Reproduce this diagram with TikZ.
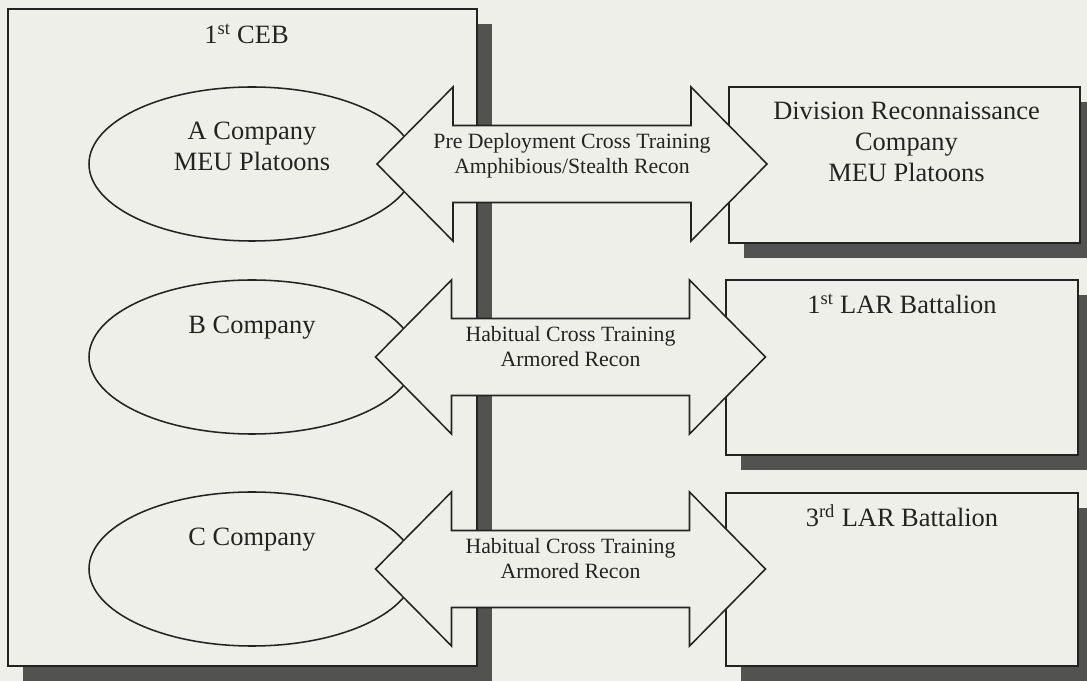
\documentclass[tikz,border=0pt]{standalone}
\usepackage{fontspec}
\setmainfont{Liberation Serif}
\usepackage{tikz}
\usetikzlibrary{calc, positioning, shapes.geometric, shadows}

\definecolor{paper}{RGB}{239,239,233}
\definecolor{ink}{RGB}{35,35,35}
\definecolor{shadowgray}{RGB}{82,82,80}

\tikzset{
  orgbox/.style = {rectangle, draw=ink, fill=paper, line width=1.1pt, inner sep=0pt,
    drop shadow={shadow xshift=15*\px, shadow yshift=-15*\px, fill=shadowgray, opacity=1}},
  company/.style = {ellipse, draw=ink, fill=paper, line width=1.1pt, inner sep=0pt,
    minimum width=326*\px, minimum height=154*\px},
  xferline/.style = {draw=ink, fill=paper, line width=1.1pt},
  pics/xferarrow/.style = {code={
    \path[xferline] (-195,0) -- ++(76,-77) -- ++(0,38.5) -- ++(238,0) -- ++(0,-38.5)
      -- ++(76,77) -- ++(-76,77) -- ++(0,-38.5) -- ++(-238,0) -- ++(0,38.5) -- cycle;
  }},
  bigtext/.style = {inner sep=0pt, align=center, text=ink,
    font=\fontsize{18.8}{21.8}\selectfont},
  smalltext/.style = {inner sep=0pt, align=center, text=ink,
    font=\fontsize{15.5}{17.8}\selectfont},
}

\begin{document}
\begin{tikzpicture}[x=0.025cm, y=-0.025cm]
  \def\px{0.025cm}
  \useasboundingbox (0,0) rectangle (1087,681);
  \fill[paper] (0,0) rectangle (1087,681);
  \clip (0,0) rectangle (1087,681);

  % 1st CEB with its companies
  \node[orgbox, minimum width=469*\px, minimum height=657*\px] (ceb) at (242.5,337.5) {};
  \node[bigtext, anchor=base] (cebText) at ([xshift=4*\px, yshift=-35*\px]ceb.north) {1\textsuperscript{st} CEB};

  \node[company] (coA) at (252,164) {};
  \node[company] (coB) at (252,357) {};
  \node[company] (coC) at (252,569) {};
  % multi-line text: base is the last line
  \node[bigtext, anchor=base] (coAText) at ([yshift=-84*\px]coA.north) {A Company\\MEU Platoons};
  \node[bigtext, anchor=base] (coBText) at ([yshift=-54*\px]coB.north) {B Company};
  \node[bigtext, anchor=base] (coCText) at ([yshift=-54*\px]coC.north) {C Company};

  % partner units
  \node[orgbox, minimum width=351*\px, minimum height=156*\px] (recon) at (904.5,165) {};
  \node[orgbox, minimum width=352*\px, minimum height=175*\px] (lar1) at (902,367.5) {};
  \node[orgbox, minimum width=352*\px, minimum height=173*\px] (lar3) at (902,579.5) {};
  \node[bigtext, anchor=base] (reconText) at ([xshift=2*\px, yshift=-95*\px]recon.north) {Division Reconnaissance\\Company\\MEU Platoons};
  \node[bigtext, anchor=base] (lar1Text) at ([yshift=-34*\px]lar1.north) {1\textsuperscript{st} LAR Battalion};
  \node[bigtext, anchor=base] (lar3Text) at ([yshift=-34*\px]lar3.north) {3\textsuperscript{rd} LAR Battalion};

  % cross training
  \coordinate (xferA) at ($(coA.east)!.5!(coA.east -| recon.west)$);
  \coordinate (xferB) at ($(coB.east)!.5!(coB.east -| lar1.west)$);
  \coordinate (xferC) at ($(coC.east)!.5!(coC.east -| lar3.west)$);
  \pic at (xferA) {xferarrow};
  \pic at (xferB) {xferarrow};
  \pic at (xferC) {xferarrow};
  \node[smalltext, anchor=base] (xferAText) at ([yshift=-9.5*\px]xferA) {Pre Deployment Cross Training\\Amphibious/Stealth Recon};
  \node[smalltext, anchor=base] (xferBText) at ([yshift=-9.5*\px]xferB) {Habitual Cross Training\\Armored Recon};
  \node[smalltext, anchor=base] (xferCText) at ([yshift=-9.5*\px]xferC) {Habitual Cross Training\\Armored Recon};
\end{tikzpicture}
\end{document}
